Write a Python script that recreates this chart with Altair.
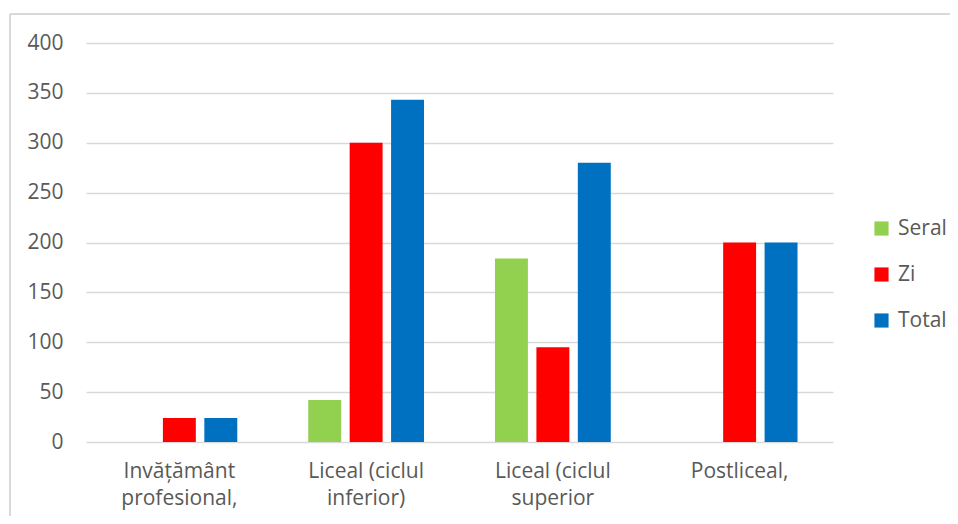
import altair as alt
import pandas as pd

categories = ["Invățământ\nprofesional,", "Liceal (ciclul\ninferior)", "Liceal (ciclul\nsuperior", "Postliceal,"]
series = ["Seral", "Zi", "Total"]
seral = [0, 42, 184, 0]
zi = [24, 300, 95, 200]
total = [24, 343, 280, 200]
colors = ["#92d050", "#ff0000", "#0070c0"]
y_ticks = [0, 50, 100, 150, 200, 250, 300, 350, 400]

rows = []
for i, c in enumerate(categories):
    for s, vals in zip(series, [seral, zi, total]):
        rows.append({"cat": c, "serie": s, "val": vals[i]})
df = pd.DataFrame(rows)

FONT = "Open Sans"
GRAY = "#595959"
LINE = "#d9d9d9"
FS = 21

bars = alt.Chart(df).mark_bar().encode(
    x=alt.X("cat:N", sort=categories, title=None,
            scale=alt.Scale(paddingInner=0.38, paddingOuter=0.19),
            axis=alt.Axis(labelExpr="split(datum.label, '\\n')", labelAngle=0,
                          labelPadding=18, labelLineHeight=27, ticks=False,
                          domain=False, labelFontSize=FS, labelColor=GRAY,
                          labelFont=FONT)),
    xOffset=alt.XOffset("serie:N", sort=series,
                        scale=alt.Scale(paddingInner=0.205, paddingOuter=0.0)),
    y=alt.Y("val:Q", title=None,
            scale=alt.Scale(domain=[0, 400], nice=False),
            axis=alt.Axis(values=y_ticks, ticks=False, domain=False,
                          gridColor=LINE, gridWidth=1.5, labelPadding=23,
                          labelFontSize=FS, labelColor=GRAY, labelFont=FONT)),
    color=alt.Color("serie:N", sort=series,
                    scale=alt.Scale(domain=series, range=colors),
                    legend=alt.Legend(title=None, orient="none", legendX=785,
                                      legendY=175, symbolType="square",
                                      symbolSize=200, symbolStrokeWidth=0,
                                      rowPadding=24, labelFontSize=FS,
                                      labelColor=GRAY, labelFont=FONT,
                                      labelOffset=6)),
)

border_top = alt.Chart(df).mark_rule(color=LINE, strokeWidth=1.5).encode(
    x=alt.value(-76), x2=alt.value(960), y=alt.value(-29)
)
border_left = alt.Chart(df).mark_rule(color=LINE, strokeWidth=1.5).encode(
    x=alt.value(-76), y=alt.value(-29), y2=alt.value(600)
)

chart = alt.layer(border_top, border_left, bars).properties(
    width=747, height=399,
    autosize=alt.AutoSizeParams(type="none"),
    padding={"left": 78, "top": 35, "right": 117, "bottom": 74},
).configure_view(stroke=None)

chart.save("out.html", embed_options={"renderer": "svg", "actions": False})
